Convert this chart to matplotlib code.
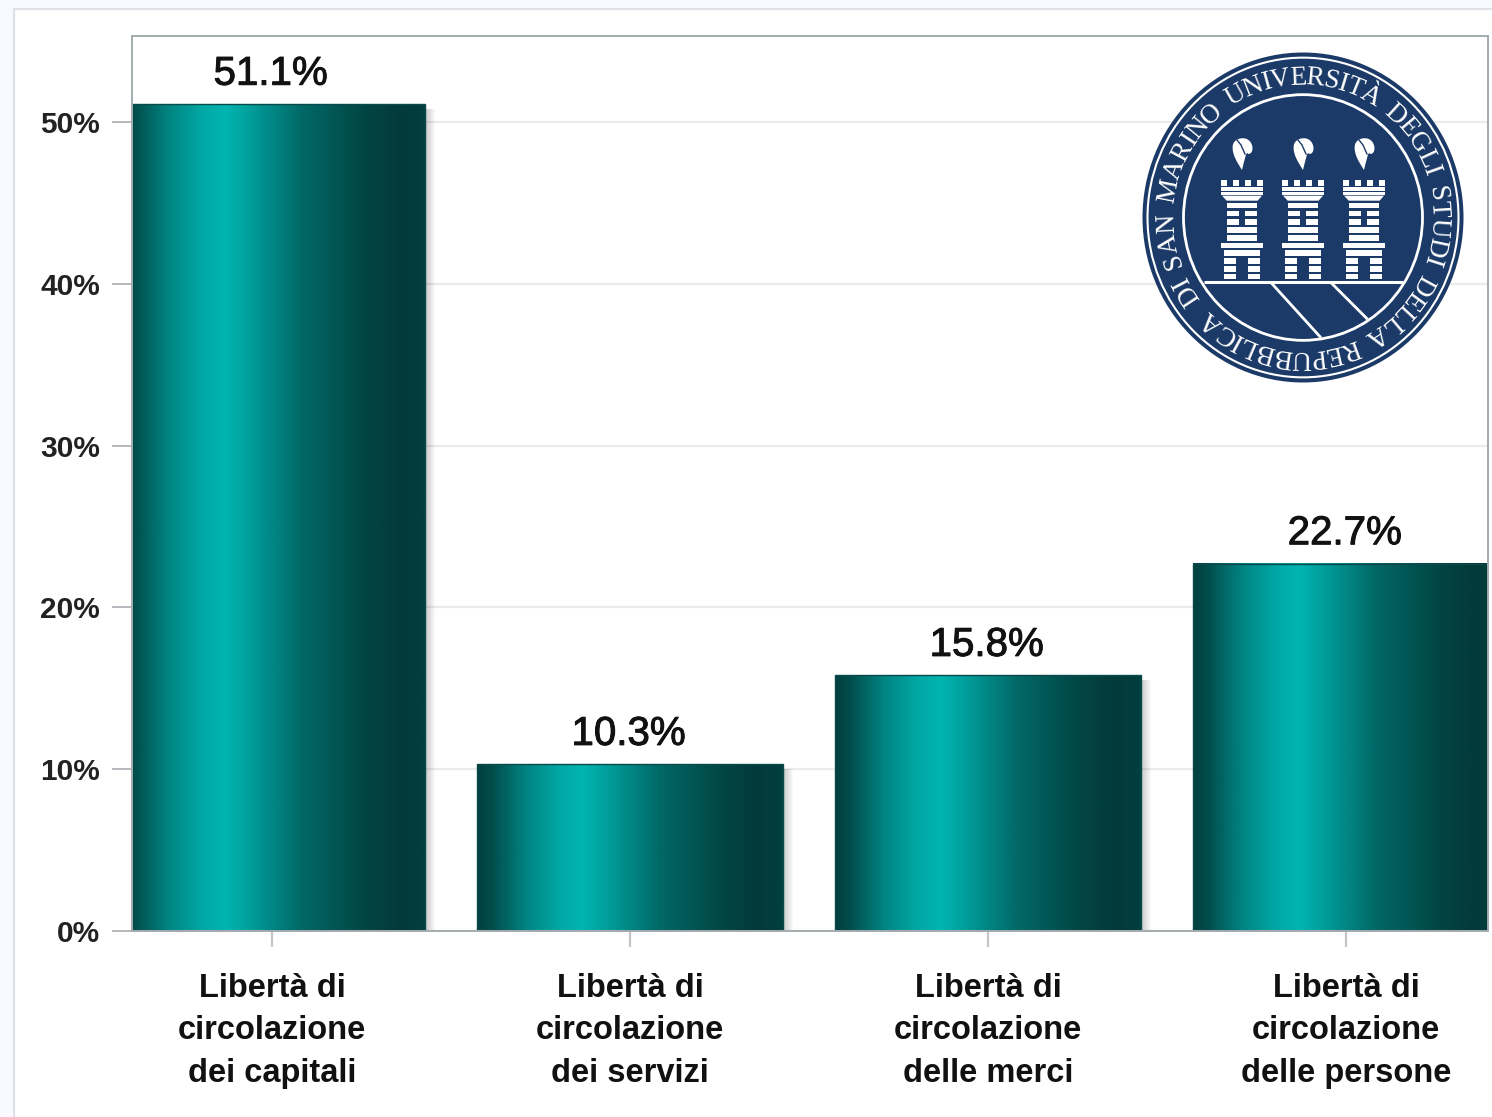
import numpy as np
import matplotlib
matplotlib.use("Agg")
import matplotlib.pyplot as plt
import matplotlib.patheffects as pe
from matplotlib.colors import LinearSegmentedColormap
from matplotlib.font_manager import FontProperties
from matplotlib.patches import Ellipse, Rectangle, Polygon, PathPatch
from matplotlib.path import Path
from matplotlib.textpath import TextToPath

categories = ["Libertà di\ncircolazione\ndei capitali",
              "Libertà di\ncircolazione\ndei servizi",
              "Libertà di\ncircolazione\ndelle merci",
              "Libertà di\ncircolazione\ndelle persone"]
values = [51.1, 10.3, 15.8, 22.7]
yticks = [0, 10, 20, 30, 40, 50]
seal_text = "DI SAN MARINO UNIVERSITÀ DEGLI STUDI DELLA REPUBBLICA"

W, H = 1492, 1117
NAVY = "#1b3a68"
plt.rcParams["font.family"] = ["Liberation Sans", "DejaVu Sans"]

fig = plt.figure(figsize=(W / 100, H / 100), dpi=100, facecolor="#f9faff")


def px_axes(z):
    # overlay axes working in image pixels
    a = fig.add_axes([0, 0, 1, 1], zorder=z)
    a.set_xlim(0, W)
    a.set_ylim(H, 0)
    a.axis("off")
    a.patch.set_alpha(0)
    return a


bg = px_axes(0)
bg.add_patch(Rectangle((14, 9), W, H, fc="white", ec="#dfe1e6", lw=1.6))

# main plot
left, right, top, bottom = 132, 1488, 36, 931
ax = fig.add_axes([left / W, 1 - bottom / H, (right - left) / W, (bottom - top) / H], zorder=1)
ax.set_facecolor("white")

x = np.arange(len(values))
bar_w = 0.852
ax.yaxis.grid(True, color="#ebebeb", lw=1.6)
ax.set_axisbelow(True)

teal = LinearSegmentedColormap.from_list("teal", [
    (0.0, "#02403f"), (0.05, "#014f4d"), (0.16, "#018583"), (0.27, "#00a8a5"),
    (0.345, "#00b5b0"), (0.42, "#00a09d"), (0.49, "#018a88"), (0.60, "#016866"),
    (0.81, "#024543"), (0.92, "#023a39"), (1.0, "#033f3e")])
ramp = np.linspace(0, 1, 300).reshape(1, -1)

bars = ax.bar(x, values, width=bar_w, color="none", edgecolor="#0a4a4a", lw=1.0, zorder=4)
fade = np.zeros((1, 30, 4))
fade[..., 3] = np.linspace(0.22, 0, 30)
for b in bars:
    x0, w, h = b.get_x(), b.get_width(), b.get_height()
    ax.imshow(ramp, cmap=teal, aspect="auto", extent=(x0, x0 + w, 0, h), zorder=3)
    ax.imshow(fade, aspect="auto", extent=(x0 + w, x0 + w + 0.03, 0, h - 0.3), zorder=2.5)

for i, v in zip(x, values):
    ax.annotate(f"{v}%", (i, v), xytext=(-1, 14), textcoords="offset points",
                ha="center", va="baseline", fontsize=29, color="#111111", zorder=6,
                path_effects=[pe.withStroke(linewidth=0.7, foreground="#111111")])

ax.set_xlim((left - 272) / 358, (right - 272) / 358)
ax.set_ylim(0, (bottom - top) / 16.18)
ax.set_yticks(yticks)
ax.set_yticklabels([f"{t}%" for t in yticks], fontsize=21.5, fontweight="bold", color="#222222")
ax.set_xticks(x)
ax.set_xticklabels(categories, fontsize=23.5, fontweight="bold", color="#111111", linespacing=1.48)
ax.tick_params(axis="y", length=14.4, width=1.4, color="#b4b9bd", pad=8.5)
ax.tick_params(axis="x", length=11.5, width=1.6, color="#c2c6ca", pad=18.5)
for name, sp in ax.spines.items():
    sp.set_color("#a4abaf")
    sp.set_linewidth(1.4)
    sp.set_zorder(5)

# seal in the top right corner, a little taller than wide
logo = px_axes(2)
cx, cy = 1303, 217.5
stretch = 1.028


def ring(r, **kw):
    logo.add_patch(Ellipse((cx, cy), 2 * r, 2 * r * stretch, **kw))


def zx(v):
    return 1130 + v / 3


def zy(v):
    return 40 + v / 3


ring(160.5, fc=NAVY, ec="none")
ring(155.5, fc="none", ec="white", lw=1.5)
ring(119.5, fc="none", ec="white", lw=2)

# text round the ring
fp = FontProperties(family="Liberation Serif", size=19.5)
t2p = TextToPath()
adv = [t2p.get_text_width_height_descent(c, fp, False)[0] if c != " " else 8.0 for c in seal_text]
adv = np.array(adv, dtype=float)
ang = 217.5
span = 353.5 / adv.sum()
for c, a in zip(seal_text, adv):
    mid = ang - span * a / 2
    th = np.radians(mid)
    logo.text(cx + 136 * np.cos(th), cy - 136 * stretch * np.sin(th), c, fontproperties=fp, color="white",
              ha="center", va="center", rotation=mid - 90, rotation_mode="anchor")
    ang -= span * a

# ground and hill lines
logo.plot([zx(222), zx(818)], [zy(727), zy(727)], color="white", lw=2.2, solid_capstyle="butt")
logo.plot([zx(425), zx(570)], [zy(730), zy(890)], color="white", lw=2)
logo.plot([zx(605), zx(710)], [zy(730), zy(835)], color="white", lw=2)


def tower_rect(c0, x0, x1, y0, y1):
    # numbers are in 3x crop units, 96 being the middle of the tower
    logo.add_patch(Rectangle((c0 + (x0 - 96) / 3, 130 + y0 / 3), (x1 - x0) / 3, (y1 - y0) / 3, fc="white", ec="none"))


for c0 in (1242, 1303, 1364):
    for m in (32, 68, 105, 141):
        tower_rect(c0, m, m + 18, 150, 168)
    tower_rect(c0, 32, 160, 172, 183)
    tower_rect(c0, 32, 160, 186, 195)
    logo.add_patch(Polygon([(c0 - 60 / 3, 130 + 197 / 3), (c0 + 60 / 3, 130 + 197 / 3),
                            (c0 + 47 / 3, 130 + 212 / 3), (c0 - 46 / 3, 130 + 212 / 3)], fc="white", ec="none"))
    for y0, y1 in [(220, 235), (292, 308), (315, 332)]:
        tower_rect(c0, 52, 142, y0, y1)
    for y0, y1 in [(243, 258), (268, 285)]:
        tower_rect(c0, 52, 88, y0, y1)
        tower_rect(c0, 106, 142, y0, y1)
    tower_rect(c0, 32, 160, 338, 355)
    tower_rect(c0, 42, 150, 360, 377)
    for y0, y1 in [(385, 402), (408, 425), (432, 448)]:
        tower_rect(c0, 42, 78, y0, y1)
        tower_rect(c0, 114, 150, y0, y1)
    # flame
    pts = [(96, 120), (80, 95), (68, 75), (68, 55), (66, 35), (82, 25), (95, 25),
           (115, 22), (130, 40), (127, 60), (126, 68), (120, 72), (115, 72),
           (108, 60), (104, 90), (96, 120)]
    verts = [(c0 + (p - 96) / 3, 130 + q / 3) for p, q in pts]
    codes = [Path.MOVETO] + [Path.CURVE4] * 15
    logo.add_patch(PathPatch(Path(verts, codes), fc="white", ec="none"))
    logo.plot([c0 - 5, c0 - 1, c0 + 3], [130 + 10, 130 + 15, 130 + 24], color=NAVY, lw=1.0)

fig.savefig("out.png", dpi=100, facecolor=fig.get_facecolor())
